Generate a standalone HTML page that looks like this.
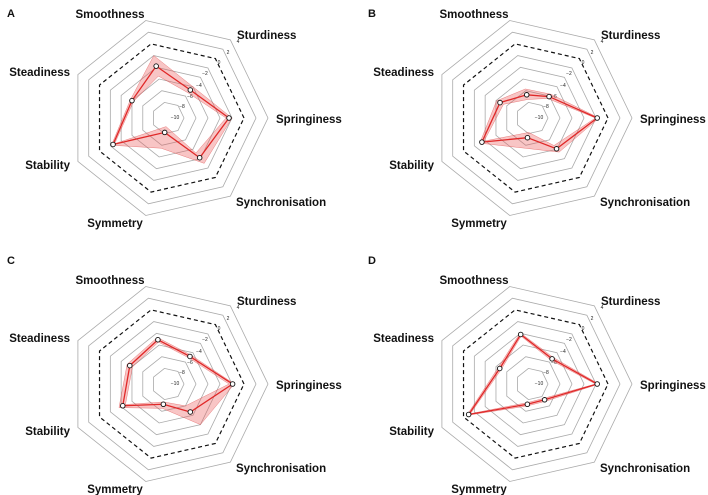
<!DOCTYPE html>
<html><head><meta charset="utf-8"><style>
body{margin:0;background:#fff;}
svg{display:block;font-family:"Liberation Sans","DejaVu Sans",sans-serif;}
.ax{font-weight:bold;font-size:11.5px;fill:#111;}
.tk{font-size:5px;fill:#222;}
.pl{font-weight:bold;font-size:11px;fill:#111;}
</style></head><body>
<svg id="chart" width="708" height="495" viewBox="0 0 708 495" xmlns="http://www.w3.org/2000/svg"></svg>
<script>
const categories = ["Springiness","Sturdiness","Smoothness","Steadiness","Stability","Symmetry","Synchronisation"];
const ticks = [-10,-8,-6,-4,-2,0,2,4];
const panelLabels = ["A","B","C","D"];
const valuesA = [-2.5,-6.7,-3.8,-6.0,-2.5,-10.2,-4.2];
const lowerA  = [-3.0,-7.3,-5.5,-6.3,-2.8,-11.2,-5.2];
const upperA  = [-2.0,-6.0,-2.0,-5.7,-2.2,-7.5,-3.0];
const valuesB = [-1.8,-8.1,-8.7,-6.75,-3.4,-9.3,-6.1];
const lowerB  = [-2.1,-8.5,-9.5,-7.4,-3.8,-10.2,-6.8];
const upperB  = [-1.5,-7.6,-7.7,-6.1,-3.0,-7.5,-5.4];
const valuesC = [-1.9,-6.8,-5.1,-5.6,-4.3,-9.2,-6.7];
const lowerC  = [-2.5,-7.1,-5.5,-6.1,-4.8,-9.6,-8.0];
const upperC  = [-1.6,-6.5,-4.7,-5.1,-3.6,-8.5,-4.0];
const valuesD = [-1.8,-7.3,-4.2,-6.7,-0.95,-9.2,-9.3];
const lowerD  = [-2.1,-7.6,-4.5,-7.0,-1.3,-9.5,-9.6];
const upperD  = [-1.5,-7.0,-3.9,-6.4,-0.6,-8.9,-9.0];

const NS="http://www.w3.org/2000/svg";
const svg=document.getElementById('chart');
const centers=[[168,118],[532,118],[168,384],[532,384]];
function rScale(v){return 16+(v+10)*6;}
function pt(c,i,v){const a=i*2*Math.PI/7;const r=Math.max(0,rScale(v));return [c[0]+r*Math.cos(a),c[1]-r*Math.sin(a)];}
function mk(tag,attrs,parent){const e=document.createElementNS(NS,tag);for(const k in attrs)e.setAttribute(k,attrs[k]);(parent||svg).appendChild(e);return e;}
const series=[[valuesA,lowerA,upperA],[valuesB,lowerB,upperB],[valuesC,lowerC,upperC],[valuesD,lowerD,upperD]];
const axOff=[[108,5,'start'],[69,-79,'start'],[-58,-100,'middle'],[-98,-42,'end'],[-98,51,'end'],[-53,109,'middle'],[68,88,'start']];
const tickOff={"-10":[7,1],"-8":[14,-10],"-6":[22,-20],"-4":[31,-31],"-2":[37,-43],"0":[51,-54],"2":[60,-64],"4":[70,-75]};
const letterPos=[[7,17],[368,17],[7,264],[368,264]];
series.forEach((s,p)=>{
  const c=centers[p];
  const g=mk('g',{});
  
  
  ticks.forEach(t=>{
    const pts=categories.map((_,i)=>pt(c,i,t).join(',')).join(' ');
    const ring=mk('polygon',{points:pts,fill:'none',stroke:t===0?'#111':'#aaa','stroke-width':t===0?1.2:0.8,'stroke-dasharray':t===0?'4,3':'none'},g);
    
    
    const o=tickOff[String(t)];
    const tx=mk('text',{x:c[0]+o[0],y:c[1]+o[1],class:'tk','text-anchor':'middle'},g);
    tx.textContent=t<0?'\u2212'+Math.abs(t):String(t);
    
    
  });
  const [vals,lo,up]=s;
  const outer=categories.map((_,i)=>pt(c,i,up[i]).join(','));
  const inner=categories.map((_,i)=>pt(c,i,lo[i]).join(','));
  const band=mk('path',{d:'M'+outer.join(' L')+' Z M'+inner.join(' L')+' Z','fill-rule':'evenodd',fill:'rgba(235,90,90,0.35)',stroke:'rgba(220,60,60,0.6)','stroke-width':0.5},g);
  
  
  const line=mk('polygon',{points:categories.map((_,i)=>pt(c,i,vals[i]).join(',')).join(' '),fill:'none',stroke:'#e02828','stroke-width':1.3},g);
  
  
  vals.forEach((v,i)=>{const q=pt(c,i,v);
    const m=mk('circle',{cx:q[0],cy:q[1],r:2.3,fill:'#fff',stroke:'#111','stroke-width':0.9},g);
    
    
  });
  categories.forEach((n,i)=>{const o=axOff[i];
    const t=mk('text',{x:c[0]+o[0],y:c[1]+o[1],class:'ax','text-anchor':o[2]},g);
    t.textContent=n;
    
    
  });
  const L=mk('text',{x:letterPos[p][0],y:letterPos[p][1],class:'pl'},g);
  L.textContent=panelLabels[p];
  
  
});
</script>
</body></html>
